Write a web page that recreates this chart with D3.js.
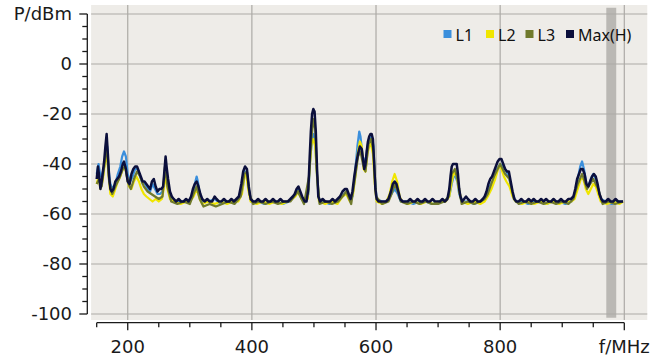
<!DOCTYPE html>
<html><head><meta charset="utf-8">
<script src="https://cdn.jsdelivr.net/npm/d3@7"></script>
<style>html,body{margin:0;padding:0;background:#fff;}svg{display:block;}</style>
</head><body>
<svg id="chart" width="654" height="358"></svg>
<script>
// ---- data ----
const xTicksMajor = [200, 400, 600, 800, 1000];
const xTickLabels = ["200", "400", "600", "800", "f/MHz"];
const yTicksMajor = [20, 0, -20, -40, -60, -80, -100];
const yTickLabels = ["P/dBm", "0", "-20", "-40", "-60", "-80", "-100"];
const seriesNames = ["L1", "L2", "L3", "Max(H)"];
const markerBand = [971, 987];

const maxH = [[150,-46],[152,-41],[154,-45],[156,-50],[158,-47],[160,-43],[162,-39],[164,-33],[166,-28],[168,-36],[170,-45],[172,-50],[174,-51],[177,-50],[180,-47],[183,-46],[186,-45],[189,-43],[192,-40],[194,-39],[197,-42],[200,-47],[203,-48],[206,-44],[209,-42],[212,-41],[215,-41],[218,-43],[221,-45],[224,-47],[227,-47],[230,-48],[233,-49],[236,-50],[239,-47],[242,-46],[245,-49],[248,-51],[251,-50],[254,-50],[257,-49],[259,-43],[261,-37],[263,-42],[265,-46],[268,-51],[271,-53],[274,-54],[278,-55],[282,-54],[286,-55],[290,-55],[294,-54],[298,-55],[302,-53],[305,-50],[308,-48],[311,-47],[314,-49],[317,-52],[320,-54],[324,-55],[328,-54],[332,-55],[336,-55],[340,-53],[343,-54],[347,-55],[351,-55],[355,-54],[359,-55],[363,-55],[367,-54],[371,-55],[375,-54],[379,-53],[383,-48],[386,-43],[389,-41],[392,-42],[395,-49],[398,-54],[402,-55],[406,-55],[410,-54],[414,-55],[418,-55],[422,-54],[426,-55],[430,-55],[434,-54],[438,-55],[442,-55],[446,-54],[450,-55],[454,-55],[458,-55],[462,-54],[466,-53],[469,-52],[472,-50],[475,-49],[478,-51],[481,-53],[485,-55],[488,-55],[491,-50],[493,-38],[495,-27],[497,-20],[499,-18],[501,-19],[503,-27],[505,-42],[507,-53],[510,-55],[514,-54],[518,-55],[522,-55],[526,-55],[530,-54],[534,-55],[538,-54],[542,-53],[546,-51],[550,-50],[553,-50],[556,-52],[559,-54],[562,-51],[565,-45],[568,-40],[571,-36],[574,-33],[577,-34],[579,-38],[581,-42],[583,-40],[585,-35],[587,-31],[589,-29],[591,-28],[593,-28],[595,-30],[597,-40],[599,-50],[601,-54],[604,-55],[608,-55],[612,-55],[616,-55],[620,-54],[624,-51],[627,-48],[630,-47],[633,-48],[636,-51],[639,-54],[643,-55],[647,-55],[651,-55],[655,-54],[659,-55],[663,-55],[667,-54],[671,-55],[675,-55],[679,-54],[683,-55],[687,-55],[691,-54],[695,-55],[699,-55],[703,-55],[707,-54],[711,-55],[715,-54],[718,-50],[720,-45],[722,-41],[724,-40],[727,-40],[730,-40],[732,-44],[734,-50],[736,-53],[739,-55],[742,-54],[745,-53],[748,-54],[752,-55],[756,-55],[760,-54],[764,-55],[768,-55],[772,-54],[775,-53],[778,-51],[781,-48],[784,-46],[787,-45],[790,-43],[793,-41],[796,-39],[799,-38],[802,-38],[805,-40],[808,-42],[811,-43],[814,-43],[817,-47],[820,-51],[823,-54],[826,-55],[830,-55],[834,-54],[838,-55],[842,-55],[846,-54],[850,-55],[854,-54],[858,-55],[862,-55],[866,-54],[870,-55],[874,-54],[878,-55],[882,-55],[886,-54],[890,-55],[894,-55],[898,-54],[902,-55],[906,-55],[910,-54],[914,-54],[918,-53],[921,-50],[924,-46],[927,-44],[930,-42],[933,-42],[936,-44],[939,-48],[942,-49],[945,-47],[948,-45],[951,-44],[954,-45],[957,-48],[960,-52],[963,-54],[966,-55],[970,-55],[974,-54],[978,-55],[982,-55],[986,-54],[990,-55],[994,-55],[998,-55]];

const l1 = [[150,-44],[153,-40],[156,-45],[159,-44],[162,-41],[165,-35],[167,-33],[169,-42],[172,-48],[176,-50],[180,-48],[184,-44],[188,-41],[191,-37],[194,-35],[197,-37],[200,-44],[204,-47],[208,-45],[212,-42],[216,-42],[220,-45],[224,-48],[228,-48],[232,-50],[236,-51],[240,-48],[244,-50],[248,-52],[252,-52],[256,-51],[259,-46],[261,-40],[263,-44],[266,-50],[270,-53],[275,-55],[285,-55],[295,-55],[302,-54],[306,-51],[309,-47],[311,-45],[313,-47],[316,-52],[320,-55],[330,-55],[340,-54],[350,-56],[360,-55],[370,-55],[378,-54],[385,-50],[389,-43],[392,-43],[395,-50],[399,-55],[410,-55],[420,-56],[430,-55],[440,-55],[450,-56],[460,-55],[470,-52],[475,-50],[480,-53],[486,-55],[491,-52],[494,-38],[497,-30],[499,-28],[501,-30],[503,-36],[505,-45],[508,-54],[515,-55],[525,-56],[535,-55],[545,-53],[552,-51],[558,-54],[562,-53],[566,-44],[570,-33],[573,-27],[575,-29],[578,-36],[581,-40],[584,-37],[587,-32],[590,-30],[593,-29],[596,-33],[598,-45],[601,-54],[610,-55],[618,-55],[625,-52],[630,-50],[635,-52],[640,-55],[650,-55],[660,-56],[670,-55],[680,-55],[690,-56],[700,-55],[710,-55],[718,-53],[722,-48],[725,-45],[728,-45],[731,-47],[734,-52],[738,-55],[748,-55],[758,-56],[768,-55],[775,-54],[780,-51],[785,-48],[790,-46],[795,-42],[800,-40],[805,-41],[810,-43],[815,-46],[820,-52],[825,-55],[835,-55],[845,-56],[855,-55],[865,-55],[875,-56],[885,-55],[895,-55],[905,-56],[915,-55],[920,-52],[925,-46],[929,-41],[932,-39],[935,-42],[939,-48],[942,-49],[946,-46],[950,-44],[954,-46],[958,-50],[962,-54],[970,-55],[980,-56],[990,-55],[998,-55]];

const l2 = [[150,-48],[153,-45],[156,-50],[160,-46],[163,-40],[166,-35],[169,-44],[172,-52],[176,-53],[180,-50],[184,-47],[188,-45],[192,-42],[195,-41],[198,-44],[202,-49],[206,-50],[210,-47],[214,-45],[218,-47],[222,-50],[226,-52],[230,-53],[235,-54],[240,-55],[245,-54],[250,-55],[255,-54],[258,-50],[261,-44],[264,-50],[268,-54],[275,-55],[285,-56],[295,-55],[300,-55],[306,-53],[311,-50],[316,-54],[320,-56],[330,-55],[340,-56],[350,-55],[360,-56],[370,-55],[378,-55],[384,-52],[388,-45],[391,-44],[394,-50],[398,-55],[408,-56],[418,-55],[428,-56],[438,-55],[448,-56],[458,-55],[465,-54],[470,-53],[475,-51],[480,-54],[490,-54],[493,-42],[496,-32],[499,-30],[502,-33],[505,-45],[508,-55],[518,-56],[528,-55],[538,-56],[546,-53],[552,-52],[558,-55],[563,-52],[567,-44],[571,-35],[574,-31],[577,-33],[580,-42],[583,-43],[586,-36],[589,-33],[592,-32],[595,-36],[598,-48],[601,-55],[610,-56],[617,-55],[622,-52],[626,-47],[630,-44],[634,-47],[638,-53],[642,-55],[652,-56],[662,-55],[672,-56],[682,-55],[692,-56],[702,-55],[712,-55],[718,-53],[722,-47],[726,-43],[730,-45],[734,-51],[738,-55],[748,-56],[758,-55],[768,-56],[775,-55],[780,-53],[786,-50],[792,-46],[798,-41],[802,-42],[806,-45],[810,-47],[815,-49],[820,-53],[825,-55],[835,-56],[845,-55],[855,-56],[865,-55],[875,-56],[885,-55],[895,-56],[905,-55],[915,-55],[920,-54],[925,-50],[930,-46],[934,-46],[938,-50],[942,-52],[946,-50],[950,-48],[954,-49],[958,-52],[962,-55],[972,-56],[982,-55],[992,-56],[998,-55]];

const l3 = [[150,-48],[154,-46],[158,-49],[162,-41],[166,-32],[170,-47],[175,-52],[180,-49],[186,-46],[192,-42],[196,-41],[200,-47],[205,-50],[210,-46],[215,-43],[220,-45],[226,-49],[232,-51],[238,-52],[244,-53],[250,-54],[256,-53],[260,-41],[264,-49],[270,-55],[280,-56],[290,-55],[300,-56],[306,-52],[311,-49],[316,-54],[322,-57],[332,-56],[342,-57],[352,-56],[362,-55],[372,-56],[382,-53],[388,-44],[392,-43],[396,-52],[402,-56],[412,-55],[422,-56],[432,-55],[442,-56],[452,-55],[462,-55],[468,-53],[474,-51],[484,-56],[492,-45],[496,-30],[499,-22],[502,-26],[505,-44],[509,-56],[519,-55],[529,-56],[539,-55],[546,-53],[552,-51],[560,-56],[566,-46],[571,-37],[575,-35],[579,-40],[583,-43],[588,-32],[592,-30],[596,-35],[600,-53],[610,-56],[620,-55],[625,-52],[630,-48],[635,-51],[640,-55],[650,-56],[660,-55],[670,-56],[680,-55],[690,-56],[700,-56],[710,-55],[717,-53],[722,-44],[727,-42],[732,-47],[738,-56],[748,-55],[758,-56],[768,-55],[775,-54],[780,-52],[790,-45],[800,-40],[808,-44],[815,-46],[822,-54],[830,-56],[840,-55],[850,-56],[860,-55],[870,-56],[880,-55],[890,-56],[900,-55],[910,-56],[918,-54],[925,-48],[932,-44],[940,-50],[950,-46],[958,-50],[965,-56],[975,-55],[985,-56],[998,-55]];

const seriesData = [l1, l2, l3, maxH];
const seriesColors = ["#3b8fdc", "#f0e600", "#707a2c", "#0b0f3c"];
const seriesWidths = [2.2, 2.2, 2.2, 2.5];

// ---- layout ----
const svg = d3.select("#chart");
const x = d3.scaleLinear().domain([150, 1000]).range([96.7, 624.3]);
const y = d3.scaleLinear().domain([-100, 20]).range([314, 14]);

// plot background
svg.append("rect")
  .attr("x", x(141)).attr("y", y(23.6))
  .attr("width", x(1037) - x(141)).attr("height", y(-102.4) - y(23.6))
  .attr("fill", "#eeece8");

// marker band
svg.append("rect")
  .attr("x", x(markerBand[0])).attr("y", y(22.5))
  .attr("width", x(markerBand[1]) - x(markerBand[0]))
  .attr("height", y(-101.5) - y(22.5))
  .attr("fill", "#bab8b4");

// grid
const grid = svg.append("g").attr("stroke", "#acaaa6").attr("stroke-width", 1.2);
xTicksMajor.forEach(v => grid.append("line")
  .attr("x1", x(v)).attr("x2", x(v)).attr("y1", y(23.6)).attr("y2", y(-102.4)));
yTicksMajor.forEach(v => grid.append("line")
  .attr("x1", x(141)).attr("x2", x(1037)).attr("y1", y(v)).attr("y2", y(v)));

// traces
const line = d3.line().x(d => x(d[0])).y(d => y(d[1]));
seriesData.forEach((s, i) => {
  svg.append("path").datum(s)
    .attr("d", line)
    .attr("fill", "none")
    .attr("stroke", seriesColors[i])
    .attr("stroke-width", seriesWidths[i])
    .attr("stroke-linejoin", "round");
});

// y axis
const yAxisX = 87.3;
const yAx = svg.append("g").attr("stroke", "#1a1a1a").attr("stroke-width", 1.3);
yAx.append("line").attr("x1", yAxisX).attr("x2", yAxisX).attr("y1", y(20)).attr("y2", y(-100));
d3.range(-100, 21, 5).forEach(v => {
  const major = v % 20 === 0;
  yAx.append("line").attr("x1", yAxisX - (major ? 8 : 5)).attr("x2", yAxisX)
    .attr("y1", y(v)).attr("y2", y(v));
});
svg.append("g").selectAll("text").data(yTicksMajor).join("text")
  .attr("x", 72).attr("y", d => y(d)).attr("dy", "0.36em")
  .attr("text-anchor", "end")
  .attr("font-family", "DejaVu Sans")
  .attr("font-size", 18)
  .attr("fill", "#1a1a1a")
  .text((d, i) => yTickLabels[i]);

// x axis
const xAxisY = 322.7;
const xAx = svg.append("g").attr("stroke", "#1a1a1a").attr("stroke-width", 1.3);
xAx.append("line").attr("x1", x(150)).attr("x2", x(1000)).attr("y1", xAxisY).attr("y2", xAxisY);
d3.range(150, 1001, 50).forEach(v => {
  const major = v % 200 === 0;
  xAx.append("line").attr("x1", x(v)).attr("x2", x(v))
    .attr("y1", xAxisY).attr("y2", xAxisY + (major ? 7.5 : 4.5));
});
svg.append("g").selectAll("text").data(xTicksMajor).join("text")
  .attr("x", d => x(d)).attr("y", 353)
  .attr("text-anchor", "middle")
  .attr("font-family", "DejaVu Sans")
  .attr("font-size", 18)
  .attr("fill", "#1a1a1a")
  .text((d, i) => xTickLabels[i]);

// legend
const legendX = [443.5, 486, 525.5, 566];
const lg = svg.append("g");
seriesNames.forEach((n, i) => {
  lg.append("rect").attr("x", legendX[i]).attr("y", 30).attr("width", 8).attr("height", 8)
    .attr("fill", seriesColors[i]);
  lg.append("text").attr("x", legendX[i] + 12).attr("y", 41)
    .attr("font-family", "Noto Sans").attr("font-size", 16)
    .attr("fill", "#111").text(n);
});
</script>
</body></html>
